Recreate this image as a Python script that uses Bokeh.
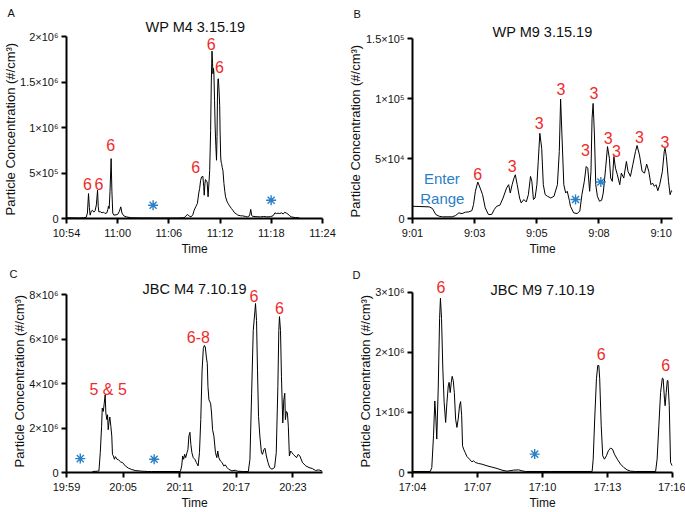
import math
from bokeh.plotting import figure
from bokeh.models import Range1d, FixedTicker, Label, CustomJSTickFormatter, Title
from bokeh.layouts import gridplot
from bokeh.embed import file_html
from bokeh.resources import INLINE

# ---------------- data (time in minutes from first tick, concentration #/cm3) -------------
# Panel A: WP M4 3.15.19 (10:54 - 11:24)
a_time = [0, 1.5, 2.0, 2.3, 2.45, 2.58, 2.68, 2.77, 2.9, 3.05, 3.2, 3.35, 3.5, 3.64, 3.72, 3.79,
          3.95, 4.17, 4.35, 4.5, 4.73, 4.85, 4.92, 5.0, 5.1, 5.23, 5.32, 5.42, 5.55, 5.8, 6.0, 6.2,
          6.36, 6.5, 6.7, 7.0, 7.6, 9, 11, 13, 13.8, 14.0, 14.2, 14.4, 14.6, 14.8, 14.96, 15.15,
          15.34, 15.5, 15.6, 15.72, 15.83, 15.98, 16.08, 16.14, 16.22, 16.29, 16.4, 16.48, 16.59,
          16.7, 16.78, 16.89, 16.97, 17.05, 17.12, 17.16, 17.22, 17.27, 17.35, 17.42, 17.5, 17.58,
          17.64, 17.69, 17.75, 17.8, 17.88, 17.95, 18.0, 18.07, 18.12, 18.18, 18.25, 18.33, 18.45,
          18.55, 18.64, 18.8, 18.94, 19.1, 19.32, 19.5, 19.7, 19.9, 20.08, 20.4, 20.64, 21.0, 21.2,
          21.45, 21.59, 21.7, 21.78, 22.2, 22.73, 23.1, 23.48, 23.9, 24.2, 24.43, 24.6, 24.8, 25.0,
          25.2, 25.4, 25.57, 25.75, 25.95, 26.1, 26.33, 26.8, 27.3]
a_conc = [8e3, 6e3, 8e3, 12e3, 60e3, 274e3, 120e3, 37e3, 80e3, 90e3, 70e3, 85e3, 150e3, 311e3, 130e3, 73e3,
          75e3, 62e3, 70e3, 55e3, 62e3, 100e3, 135e3, 110e3, 300e3, 658e3, 300e3, 60e3, 37e3, 40e3, 45e3, 80e3,
          128e3, 60e3, 30e3, 18e3, 8e3, 6e3, 5e3, 5e3, 8e3, 30e3, 44e3, 25e3, 18e3, 40e3, 91e3, 130e3,
          165e3, 280e3, 329e3, 420e3, 457e3, 464e3, 350e3, 256e3, 380e3, 428e3, 410e3, 402e3, 238e3,
          400e3, 530e3, 969e3, 1500e3, 1839e3, 1700e3, 1590e3, 1650e3, 1609e3, 1300e3, 1005e3, 800e3, 640e3,
          900e3, 1334e3, 1530e3, 1536e3, 1400e3, 1243e3, 950e3, 676e3, 620e3, 603e3, 560e3, 530e3, 384e3,
          300e3, 238e3, 190e3, 165e3, 140e3, 110e3, 90e3, 62e3, 50e3, 37e3, 30e3, 29e3, 22e3, 18e3,
          30e3, 100e3, 35e3, 25e3, 20e3, 18e3, 22e3, 18e3, 20e3, 30e3, 62e3, 55e3, 58e3, 55e3,
          62e3, 50e3, 69e3, 60e3, 48e3, 35e3, 18e3, 10e3, 7e3]
a_xticks = [0, 6, 12, 18, 24, 30]
a_xlabels = ["10:54", "11:00", "11:06", "11:12", "11:18", "11:24"]
a_yticks = [0, 5e5, 1e6, 1.5e6, 2e6]
a_ylabels = ["0", "5×10⁵", "1×10⁶", "1.5×10⁶", "2×10⁶"]
a_note_text = ["6", "6", "6", "6", "6", "6"]
a_note_time = [2.46, 3.79, 5.19, 15.15, 16.97, 17.92]
a_note_conc = [384e3, 384e3, 804e3, 567e3, 1919e3, 1663e3]
a_star_time = [10.15, 23.98]
a_star_conc = [146e3, 201e3]

# Panel B: WP M9 3.15.19 (9:01 - ~9:10)
b_time = [0, 0.63, 0.75, 0.875, 1.0, 1.12, 1.49, 1.62, 1.74, 1.86, 1.99, 2.11, 2.23, 2.29, 2.36, 2.45,
          2.54, 2.63, 2.73, 2.85, 2.97, 3.07, 3.16, 3.28, 3.40, 3.53, 3.61, 3.67, 3.74, 3.81, 3.86, 3.93,
          4.02, 4.08, 4.18, 4.27, 4.35, 4.43, 4.48, 4.54, 4.60, 4.67, 4.72, 4.78, 4.85, 4.91, 4.98, 5.07,
          5.19, 5.31, 5.44, 5.51, 5.56, 5.61, 5.68, 5.75, 5.81, 5.89, 5.93, 6.05, 6.18, 6.28, 6.36, 6.45,
          6.52, 6.58, 6.65, 6.70, 6.74, 6.78, 6.83, 6.88, 6.94, 7.02, 7.10, 7.16, 7.25, 7.32, 7.39, 7.44,
          7.50, 7.56, 7.62, 7.69, 7.78, 7.84, 7.93, 8.03, 8.09, 8.18, 8.27, 8.37, 8.43, 8.52, 8.62, 8.71,
          8.79, 8.87, 8.95, 9.01, 9.08, 9.14, 9.21, 9.28, 9.38, 9.45, 9.48, 9.53, 9.61, 9.67, 9.72, 9.75]
b_conc = [10.2e3, 9.7e3, 8.3e3, 3.3e3, 1.9e3, 1.4e3, 1.4e3, 2.5e3, 4.7e3, 4.1e3, 5.3e3, 5.5e3, 6.6e3, 11.6e3, 22.7e3, 30.4e3,
          25.4e3, 19.9e3, 8.9e3, 3.3e3, 3.3e3, 7.5e3, 10.2e3, 11.1e3, 17.1e3, 25.4e3, 28.2e3, 21.3e3, 28.2e3, 33.7e3, 36.5e3, 28.2e3,
          17.1e3, 13e3, 15.8e3, 13.8e3, 19.9e3, 35.1e3, 31e3, 15.8e3, 17.1e3, 28.2e3, 47.6e3, 71.1e3, 58.6e3, 28.2e3, 19.9e3, 18.5e3,
          17.1e3, 18.5e3, 28.2e3, 55.9e3, 99.6e3, 69.7e3, 28.2e3, 21.3e3, 22.7e3, 14.9e3, 10.2e3, 4.7e3, 4.1e3, 6.1e3, 19.9e3, 31e3,
          43.4e3, 42e3, 22.7e3, 39.3e3, 83.5e3, 96e3, 69.7e3, 28.2e3, 18.5e3, 14.4e3, 15.2e3, 21.3e3, 42e3, 60e3, 50.3e3, 33.7e3,
          31e3, 51.7e3, 42e3, 36.5e3, 28.2e3, 37.9e3, 33.7e3, 47.6e3, 39.3e3, 35.1e3, 44.8e3, 55.9e3, 60.9e3, 53.1e3, 39.3e3, 37.9e3,
          45.4e3, 39.3e3, 28.2e3, 29.6e3, 26.8e3, 28.2e3, 23.2e3, 28.2e3, 39.3e3, 55.9e3, 58.6e3, 51.7e3, 31e3, 19.9e3, 23.2e3, 22.7e3]
b_xticks = [0, 140 / 60, 280 / 60, 420 / 60, 560 / 60]
b_xlabels = ["9:01", "9:03", "9:05", "9:08", "9:10"]
b_yticks = [0, 5e4, 1e5, 1.5e5]
b_ylabels = ["0", "5×10⁴", "1×10⁵", "1.5×10⁵"]
b_note_text = ["6", "3", "3", "3", "3", "3", "3", "3", "3", "3"]
b_note_time = [2.45, 3.74, 4.76, 5.57, 6.81, 6.49, 7.35, 7.66, 8.52, 9.48]
b_note_conc = [37.1e3, 44e3, 79.4e3, 108.4e3, 104.3e3, 57.3e3, 66.9e3, 55.9e3, 68.3e3, 63.6e3]
b_star_time = [6.12, 7.07]
b_star_conc = [15.8e3, 30.4e3]
b_range_text = ["Enter", "Range"]
b_range_time = [1.10, 1.12]
b_range_conc = [33.7e3, 16.3e3]

# Panel C: JBC M4 7.10.19 (19:59 - ~20:26)
c_time = [2.75, 3.27, 3.44, 3.58, 3.72, 3.79, 3.90, 4.0, 4.10, 4.17, 4.28, 4.35, 4.42, 4.49, 4.59, 4.70,
          4.80, 4.87, 4.97, 5.08, 5.18, 5.36, 5.53, 5.74, 5.95, 6.23, 6.57, 6.92, 7.27, 7.97, 8.66, 9.01,
          12.07, 12.21, 12.31, 12.42, 12.52, 12.63, 12.77, 12.87, 12.97, 13.08, 13.18, 13.29, 13.43, 13.6,
          13.77, 13.95, 14.09, 14.23, 14.37, 14.50, 14.61, 14.71, 14.82, 14.92, 14.99, 15.10, 15.27, 15.37,
          15.48, 15.62, 15.79, 15.93, 16.03, 16.14, 16.31, 16.49, 16.66, 16.83, 17.01, 17.18, 17.53, 17.88,
          18.12, 18.75, 19.27, 19.44, 19.62, 19.79, 19.97, 20.03, 20.14, 20.24, 20.35, 20.49, 20.66, 20.77,
          20.92, 21.04, 21.18, 21.36, 21.53, 21.77, 22.05, 22.23, 22.4, 22.5, 22.57, 22.68, 22.78, 22.92,
          23.03, 23.13, 23.2, 23.3, 23.41, 23.51, 23.62, 23.76, 23.9, 24.03, 24.21, 24.38, 24.56, 24.73,
          25.01, 25.36, 25.7, 26.05, 26.4, 26.75, 27.1]
c_conc = [45e3, 59e3, 74e3, 892e3, 2.08e6, 2.90e6, 2.75e6, 3.12e6, 3.49e6, 2.68e6, 2.38e6, 2.60e6, 1.93e6, 2.23e6, 2.50e6, 2.08e6,
          1.64e6, 818e3, 744e3, 595e3, 714e3, 595e3, 565e3, 476e3, 446e3, 297e3, 193e3, 134e3, 89e3, 59e3, 45e3, 45e3,
          45e3, 297e3, 744e3, 595e3, 818e3, 669e3, 892e3, 1.04e6, 1.64e6, 1.81e6, 1.26e6, 892e3, 669e3, 595e3,
          446e3, 297e3, 892e3, 2.38e6, 4.61e6, 5.58e6, 5.72e6, 5.65e6, 5.20e6, 4.91e6, 3.87e6, 3.27e6, 3.12e6, 2.68e6,
          1.93e6, 1.64e6, 892e3, 669e3, 967e3, 669e3, 520e3, 446e3, 297e3, 342e3, 223e3, 149e3, 74e3, 104e3,
          59e3, 45e3, 45e3, 595e3, 3.57e6, 6.39e6, 7.29e6, 7.61e6, 6.84e6, 4.61e6, 2.53e6, 1.64e6, 892e3, 818e3,
          1.04e6, 1.09e6, 744e3, 446e3, 223e3, 149e3, 223e3, 892e3, 3.87e6, 6.39e6, 7.02e6, 6.39e6, 4.31e6, 2.23e6,
          3.27e6, 3.57e6, 2.38e6, 2.75e6, 2.68e6, 2.08e6, 744e3, 967e3, 892e3, 818e3, 744e3, 669e3, 818e3, 744e3,
          446e3, 297e3, 223e3, 178e3, 89e3, 119e3, 59e3]
c_xticks = [0, 6, 12, 18, 24]
c_xlabels = ["19:59", "20:05", "20:11", "20:17", "20:23"]
c_yticks = [0, 2e6, 4e6, 6e6, 8e6]
c_ylabels = ["0", "2×10⁶", "4×10⁶", "6×10⁶", "8×10⁶"]
c_note_text = ["5 & 5", "6-8", "6", "6"]
c_note_time = [4.42, 13.98, 19.86, 22.57]
c_note_conc = [3.72e6, 6.10e6, 7.95e6, 7.41e6]
c_star_time = [1.46, 9.29]
c_star_conc = [625e3, 595e3]

# Panel D: JBC M9 7.10.19 (17:04 - 17:16)
d_time = [0, 0.82, 0.89, 0.97, 1.03, 1.08, 1.12, 1.19, 1.25, 1.29, 1.34, 1.40, 1.46, 1.53, 1.59, 1.65,
          1.69, 1.74, 1.79, 1.83, 1.88, 1.93, 1.99, 2.05, 2.11, 2.17, 2.22, 2.27, 2.31, 2.36, 2.43, 2.51,
          2.63, 2.74, 2.82, 2.90, 3.05, 3.20, 3.44, 3.67, 3.90, 4.13, 4.36, 4.67, 4.90, 5.05, 5.21, 5.75,
          6.36, 7.13, 8.29, 8.34, 8.41, 8.49, 8.55, 8.6, 8.64, 8.71, 8.78, 8.86, 8.95, 9.04, 9.14, 9.23,
          9.32, 9.45, 9.60, 9.75, 9.91, 10.06, 10.29, 11.22, 11.29, 11.37, 11.45, 11.53, 11.57, 11.63,
          11.66, 11.71, 11.76, 11.79, 11.85, 11.91, 11.99]
d_conc = [17e3, 17e3, 83e3, 611e3, 1.19e6, 889e3, 556e3, 1.44e6, 2.56e6, 2.90e6, 2.56e6, 1.72e6, 1.17e6, 833e3, 1.17e6, 1.44e6,
          1.50e6, 1.33e6, 1.50e6, 1.60e6, 1.53e6, 1.33e6, 889e3, 750e3, 889e3, 1.11e6, 1.18e6, 944e3, 444e3, 389e3, 333e3, 267e3,
          222e3, 178e3, 194e3, 167e3, 150e3, 139e3, 111e3, 89e3, 67e3, 39e3, 22e3, 39e3, 44e3, 28e3, 17e3, 17e3,
          17e3, 17e3, 17e3, 222e3, 889e3, 1.56e6, 1.78e6, 1.78e6, 1.56e6, 778e3, 278e3, 222e3, 278e3, 361e3, 406e3, 389e3,
          306e3, 222e3, 139e3, 83e3, 44e3, 22e3, 17e3, 17e3, 222e3, 778e3, 1.33e6, 1.57e6, 1.56e6, 1.22e6,
          1.11e6, 1.33e6, 1.53e6, 1.53e6, 1.11e6, 167e3, 111e3]
d_xticks = [0, 3, 6, 9, 12]
d_xlabels = ["17:04", "17:07", "17:10", "17:13", "17:16"]
d_yticks = [0, 1e6, 2e6, 3e6]
d_ylabels = ["0", "1×10⁶", "2×10⁶", "3×10⁶"]
d_note_text = ["6", "6", "6"]
d_note_time = [1.31, 8.71, 11.69]
d_note_conc = [3.08e6, 1.97e6, 1.79e6]
d_star_time = [5.64]
d_star_conc = [306e3]

titles = ["WP M4 3.15.19", "WP M9 3.15.19", "JBC M4 7.10.19", "JBC M9 7.10.19"]
letters = ["A", "B", "C", "D"]
y_title = "Particle Concentration (#/cm³)"
x_title = "Time"

# ---------------- styling ----------------
FONT = "Liberation Sans"
RED = "#ee2b2b"
BLUE = "#2a80c6"
INK = "#111111"


def make_panel(fig_w, fig_h, fl, ft, fw, fh, ax_px, xmax, ytop,
               time, conc, xticks, xlabels, yticks, ylabels,
               note_text, note_time, note_conc, star_time, star_conc,
               title, title_pos, letter, letter_off, letter_valign, ylab_off):
    yend = ytop * fh / ax_px  # frame taller than the axis, axis itself bounded to [0, ytop]
    p = figure(width=fig_w, height=fig_h, x_range=Range1d(0, xmax), y_range=Range1d(0, yend),
               output_backend="svg", toolbar_location=None, tools="", title=letter,
               min_border_left=fl, min_border_top=ft,
               min_border_right=fig_w - fl - fw, min_border_bottom=fig_h - ft - fh)
    p.outline_line_color = None
    p.grid.visible = False
    p.background_fill_color = "white"
    p.border_fill_color = "white"

    # panel letter = the plot's own title, pushed to the far left
    p.title.align = "left"
    p.title.offset = letter_off
    p.title.standoff = 0
    p.title.text_font = FONT
    p.title.text_font_size = "11px"
    p.title.text_font_style = "normal"
    p.title.text_color = INK
    p.title.vertical_align = letter_valign

    for ax in (p.xaxis[0], p.yaxis[0]):
        ax.axis_line_width = 2
        ax.axis_line_color = "black"
        ax.major_tick_line_width = 2
        ax.major_tick_line_color = "black"
        ax.major_tick_out = 5
        ax.major_tick_in = 0
        ax.minor_tick_line_color = None
        ax.major_label_text_font = FONT
        ax.major_label_text_color = INK
        ax.major_label_text_font_size = "11px"
        ax.major_label_standoff = 3
    p.yaxis[0].bounds = (0, ytop)
    p.xaxis[0].ticker = FixedTicker(ticks=xticks)
    p.xaxis[0].formatter = CustomJSTickFormatter(args=dict(labels=xlabels), code="return labels[index];")
    p.yaxis[0].ticker = FixedTicker(ticks=yticks)
    p.yaxis[0].formatter = CustomJSTickFormatter(args=dict(labels=ylabels), code="return labels[index];")
    p.xaxis[0].axis_label = x_title
    p.xaxis[0].axis_label_text_font = FONT
    p.xaxis[0].axis_label_text_font_size = "12px"
    p.xaxis[0].axis_label_text_font_style = "normal"
    p.xaxis[0].axis_label_text_color = INK
    p.xaxis[0].axis_label_standoff = 0

    # y-axis title on the left side, positioned along the axis
    p.add_layout(Title(text=y_title, align="left", offset=ylab_off, standoff=0,
                       text_font=FONT, text_font_size="13px", text_font_style="normal",
                       text_color=INK, vertical_align="bottom"), "left")

    p.line(time, conc, line_color="black", line_width=1.0, line_join="round")
    p.scatter(star_time, star_conc, marker="asterisk", size=10, line_color=BLUE, line_width=1.4)

    for t, x, y in zip(note_text, note_time, note_conc):
        p.add_layout(Label(x=x, y=y, text=t, text_color=RED, text_font=FONT, text_font_size="16px",
                           text_align="center", text_baseline="middle"))

    # chart title, inside the (taller) frame; pixel -> data conversion
    tx = (title_pos[0] - fl) / fw * xmax
    ty = (ft + fh - title_pos[1]) / fh * yend
    p.add_layout(Label(x=tx, y=ty, text=title, text_color=INK, text_font=FONT,
                       text_font_size="14.5px", text_align="center", text_baseline="middle"))
    return p


pa = make_panel(340, 258, 62, 20, 264, 198, 182, 30, 2e6, a_time, a_conc, a_xticks, a_xlabels,
                a_yticks, a_ylabels, a_note_text, a_note_time, a_note_conc, a_star_time, a_star_conc,
                titles[0], (195, 26), letters[0], -59, "top", 3)
pb = make_panel(345, 258, 71, 20, 264, 199, 180.7, 9.76, 1.5e5, b_time, b_conc, b_xticks, b_xlabels,
                b_yticks, b_ylabels, b_note_text, b_note_time, b_note_conc, b_star_time, b_star_conc,
                titles[1], (203, 32), letters[1], -59, "middle", 1)
for t, x, y in zip(b_range_text, b_range_time, b_range_conc):
    pb.add_layout(Label(x=x, y=y, text=t, text_color=BLUE, text_font=FONT, text_font_size="15px",
                        text_align="center", text_baseline="middle"))
pc = make_panel(340, 254, 62, 20, 260, 194, 179.5, 27.13, 8e6, c_time, c_conc, c_xticks, c_xlabels,
                c_yticks, c_ylabels, c_note_text, c_note_time, c_note_conc, c_star_time, c_star_conc,
                titles[2], (192, 29), letters[2], -57, "middle", 5)
pd_ = make_panel(345, 254, 72, 22, 260, 192, 180.3, 12, 3e6, d_time, d_conc, d_xticks, d_xlabels,
                 d_yticks, d_ylabels, d_note_text, d_note_time, d_note_conc, d_star_time, d_star_conc,
                 titles[3], (202, 31), letters[3], -60, "bottom", 5)

grid = gridplot([[pa, pb], [pc, pd_]], toolbar_location=None)
open("out.html", "w").write(file_html(grid, INLINE))
